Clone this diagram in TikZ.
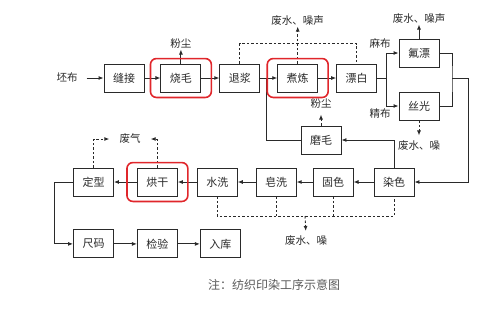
\documentclass[tikz,border=0pt]{standalone}
\usepackage{fontspec}
\setmainfont{Noto Sans CJK SC}
\usetikzlibrary{arrows.meta,fit,positioning}
\definecolor{Ink}{HTML}{2A2A2A}
\definecolor{Mark}{HTML}{E0262B}
\definecolor{Note}{HTML}{5A5A5A}
\tikzset{
  proc/.style={
    draw=Ink, line width=0.9pt, minimum width=40pt, minimum height=28pt,
    inner sep=0pt, text=Ink, font=\fontsize{11}{13}\selectfont
  },
  lbl/.style={inner sep=1pt, text=Ink, font=\fontsize{10.5}{12}\selectfont},
  hilite/.style={
    draw=Mark, line width=1.6pt, rounded corners=6pt,
    inner xsep=10pt, inner ysep=5pt
  },
  flow/.style={-{Latex[length=5pt,width=4pt]}, line width=0.9pt, draw=Ink},
  link/.style={line width=0.9pt, draw=Ink},
  dflow/.style={flow, dash pattern=on 2.5pt off 2pt},
  dlink/.style={link, dash pattern=on 2.5pt off 2pt}
}
\begin{document}
\begin{tikzpicture}[x=1pt,y=-1pt]
    \useasboundingbox (0,0) rectangle (501,309);
    \node[lbl,inner xsep=9pt] (pibu) at (67,78) {坯布};
    \node[proc] (fengjie) at (124,78) {缝接};
    \node[proc,right=16pt of fengjie] (shaomao) {烧毛};
    \node[proc,right=18pt of shaomao] (tuijiang) {退浆};
    \node[proc,right=17pt of tuijiang] (zhulian) {煮炼};
    \node[proc,right=18pt of zhulian] (piaobai) {漂白};
    \node[proc] (fupiao) at (419,53) {氟漂};
    \node[proc] (siguang) at (419,106) {丝光};
    \node[proc] (momao) at (321,140) {磨毛};
    \node[proc] (ranse) at (394,182) {染色};
    \node[proc,left=20pt of ranse] (guse) {固色};
    \node[proc,left=16pt of guse] (zaoxi) {皂洗};
    \node[proc,left=18pt of zaoxi] (shuixi) {水洗};
    \node[proc,left=19pt of shuixi] (honggan) {烘干};
    \node[proc,left=23pt of honggan] (dingxing) {定型};
    \node[proc,below=33pt of dingxing] (chima) {尺码};
    \node[proc,right=23pt of chima] (jianyan) {检验};
    \node[proc,right=22pt of jianyan] (ruku) {入库};

    \node[lbl,above=14pt of shaomao] (fenchen1) {粉尘};
    \node[lbl,above=37pt of zhulian] (feishui1) {废水、噪声};
    \node[lbl,above=14pt of fupiao] (feishui2) {废水、噪声};
    \node[lbl,below=19pt of siguang] (feishui3) {废水、噪};
    \node[lbl,above=16pt of momao] (fenchen2) {粉尘};
    \node[lbl] (mabu) at (380,43) {麻布};
    \node[lbl] (jingbu) at (380,114) {精布};
    \node[lbl,inner xsep=10pt] (feiqi) at (130,139) {废气};
    \node[lbl] (feishui4) at (306,241) {废水、噪};
    \node[inner sep=0pt,text=Note,font=\fontsize{12}{14}\selectfont] (caption) at (274,285) {注：纺织印染工序示意图};

    \coordinate (split) at (386,78);
    \coordinate (merge) at (452,78);
    \coordinate (turn) at (468,78);
    \coordinate (join) at (266,78);
    \coordinate (drain) at (305,216);

    \draw[flow] (pibu) -- (fengjie);
    \draw[flow] (fengjie) -- (shaomao);
    \draw[flow] (shaomao) -- (tuijiang);
    \draw[flow] (tuijiang) -- (zhulian);
    \draw[flow] (zhulian) -- (piaobai);
    \draw[link] (piaobai.east) -- (split);
    \draw[flow] (split) |- (fupiao.west);
    \draw[flow] (split) |- (siguang.west);
    \draw[link] (fupiao.east) -| (merge) |- (siguang.east);
    \draw[flow] (merge) -- (turn) |- (ranse.east);
    \draw[flow] (ranse) -- (guse);
    \draw[flow] (guse) -- (zaoxi);
    \draw[flow] (zaoxi) -- (shuixi);
    \draw[flow] (shuixi) -- (honggan);
    \draw[flow] (honggan) -- (dingxing);
    \draw[flow] (ranse.north) |- (momao.east);
    \draw[link] (momao.west) -| (join);
    \draw[flow] (dingxing.west) -- ++(-19,0) |- (chima.west);
    \draw[flow] (chima) -- (jianyan);
    \draw[flow] (jianyan) -- (ruku);

    \draw[flow] (shaomao.north) -- (fenchen1.south);
    \draw[dflow] (zhulian.north) -- (feishui1.south);
    \draw[flow] (fupiao.north) -- (feishui2.south);
    \draw[dflow,shorten >=4pt] (siguang.south) -- (feishui3.north);
    \draw[dflow,shorten >=5pt] (momao.north) -- (fenchen2.south);
    \draw[dlink] (tuijiang.north) -- ++(0,-20) -| (piaobai.north);
    \draw[dflow] (dingxing.north) |- (feiqi.west);
    \draw[dflow] (honggan.north) |- (feiqi.east);
    \draw[dlink] (shuixi.south) -- ++(0,20) -| (ranse.south);
    \draw[dlink] (zaoxi.south) -- ++(0,20);
    \draw[dlink] (guse.south) -- ++(0,20);
    \draw[dflow,shorten >=4pt] (drain) -- (feishui4.north);

    \node[hilite,fit=(shaomao)] (mark1) {};
    \node[hilite,fit=(zhulian)] (mark2) {};
    \node[hilite,fit=(honggan)] (mark3) {};
  \end{tikzpicture}
\end{document}
